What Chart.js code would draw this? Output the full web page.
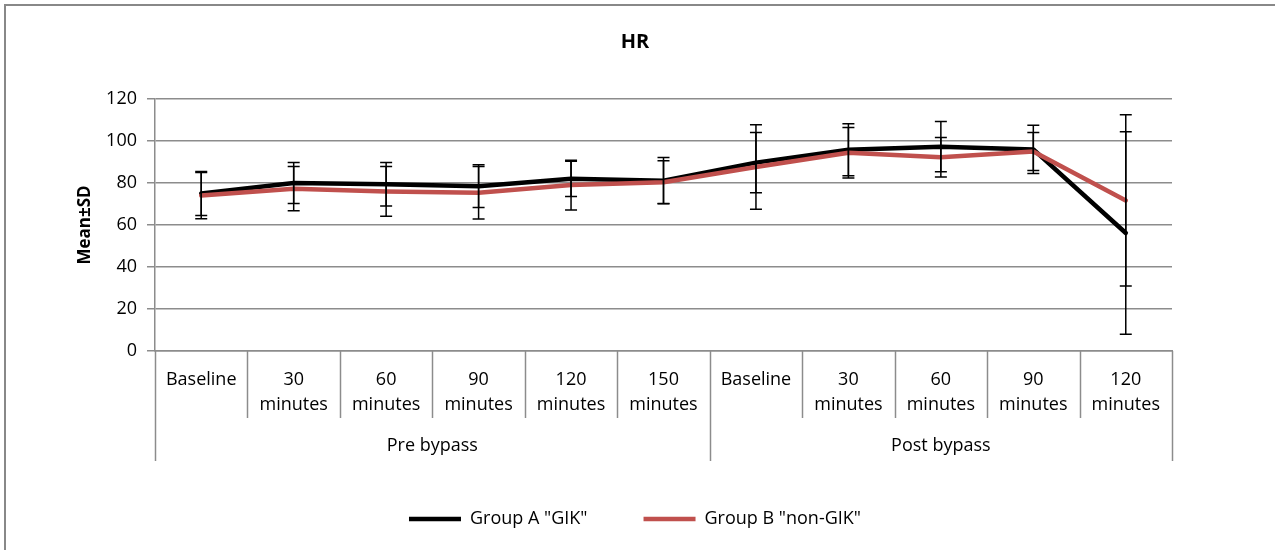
<!DOCTYPE html>
<html>
<head>
<meta charset="utf-8">
<script src="https://cdn.jsdelivr.net/npm/chart.js@4"></script>
<style>
  html, body { margin: 0; padding: 0; background: #fff; }
  #wrap { position: relative; width: 1275px; height: 550px; overflow: hidden; }
  #frame { position: absolute; left: 4px; top: 4px; width: 1400px; height: 700px;
           border-left: 2px solid #888; border-top: 2px solid #888; pointer-events: none; }
  canvas { position: absolute; left: 0; top: 0; }
</style>
</head>
<body>
<div id="wrap">
  <canvas id="hr" width="1275" height="550"></canvas>
  <div id="frame"></div>
</div>
<script>
// ── Data ────────────────────────────────────────────────────
const categories = [
    ['Baseline'], ['30', 'minutes'], ['60', 'minutes'], ['90', 'minutes'],
    ['120', 'minutes'], ['150', 'minutes'],
    ['Baseline'], ['30', 'minutes'], ['60', 'minutes'], ['90', 'minutes'], ['120', 'minutes']
];
const groupNames = ['Pre bypass', 'Post bypass'];
const groupSizes = [6, 5];

const meanA = [75, 80, 79.4, 78.5, 82, 81.1, 89.7, 95.8, 97.3, 96, 56.2];
const sdA   = [10.5, 9.8, 10.4, 10.2, 8.4, 11, 14.4, 12.4, 12, 11.5, 48.2];
const meanB = [74, 77.3, 76, 75.4, 79, 80.4, 87.6, 94.4, 92.3, 95, 71.7];
const sdB   = [11, 10.5, 11.8, 12.5, 11.8, 10.2, 20.1, 12, 9.4, 9, 40.8];

const yTicks = [0, 20, 40, 60, 80, 100, 120];

const FONT = "'Open Sans', 'Liberation Sans', sans-serif";
const GRID = '#8c8c8c';

// ── Error bars (both groups, black) ─────────────────────────
const errorBars = {
    id: 'errorBars',
    afterDatasetsDraw(chart) {
        const { ctx, scales: { x, y } } = chart;
        ctx.save();
        ctx.strokeStyle = '#000';
        ctx.lineWidth = 1.5;
        [[meanA, sdA], [meanB, sdB]].forEach(([m, s]) => {
            m.forEach((v, i) => {
                const px = x.getPixelForValue(i);
                const top = y.getPixelForValue(v + s[i]);
                const bot = y.getPixelForValue(v - s[i]);
                ctx.beginPath();
                ctx.moveTo(px, top); ctx.lineTo(px, bot);
                ctx.moveTo(px - 6, top); ctx.lineTo(px + 6, top);
                ctx.moveTo(px - 6, bot); ctx.lineTo(px + 6, bot);
                ctx.stroke();
            });
        });
        ctx.restore();
    }
};

// ── Category / group separators + group labels ──────────────
const groupAxis = {
    id: 'groupAxis',
    afterDraw(chart) {
        const { ctx, scales: { x, y } } = chart;
        const step = x.getPixelForValue(1) - x.getPixelForValue(0);
        const left = x.getPixelForValue(0) - step / 2;
        const base = y.getPixelForValue(0);
        const catBottom = base + 67;
        const grpBottom = base + 110;
        const groupEdges = [0];
        groupSizes.forEach(n => groupEdges.push(groupEdges[groupEdges.length - 1] + n));

        ctx.save();
        ctx.strokeStyle = GRID;
        ctx.lineWidth = 1.5;
        for (let i = 0; i <= categories.length; i++) {
            const px = Math.round(left + i * step) + 0.5;
            ctx.beginPath();
            ctx.moveTo(px, base);
            ctx.lineTo(px, groupEdges.includes(i) ? grpBottom : catBottom);
            ctx.stroke();
        }
        ctx.fillStyle = '#000';
        ctx.font = '18px ' + FONT;
        ctx.textAlign = 'center';
        ctx.textBaseline = 'middle';
        groupNames.forEach((g, k) => {
            const cx = left + (groupEdges[k] + groupEdges[k + 1]) / 2 * step;
            ctx.fillText(g, cx, base + 95);
        });
        ctx.restore();
    }
};

new Chart(document.getElementById('hr'), {
    type: 'line',
    data: {
        labels: categories,
        datasets: [
            {
                label: 'Group A "GIK"',
                data: meanA,
                borderColor: '#000000',
                backgroundColor: '#000000',
                borderWidth: 4.5,
                borderCapStyle: 'round',
                borderJoinStyle: 'round',
                pointRadius: 0,
                tension: 0,
                order: 1
            },
            {
                label: 'Group B "non-GIK"',
                data: meanB,
                borderColor: '#C0504D',
                backgroundColor: '#C0504D',
                borderWidth: 4.5,
                borderCapStyle: 'round',
                borderJoinStyle: 'round',
                pointRadius: 0,
                tension: 0,
                order: 0
            }
        ]
    },
    options: {
        responsive: false,
        animation: false,
        layout: { padding: { left: 98, right: 103, top: 30, bottom: 12 } },
        plugins: {
            title: {
                display: true,
                text: 'HR',
                color: '#000',
                font: { family: FONT, size: 20, weight: 'bold' },
                padding: { top: 0, bottom: 45 }
            },
            legend: {
                position: 'bottom',
                labels: {
                    color: '#000',
                    font: { family: FONT, size: 18 },
                    usePointStyle: true,
                    pointStyle: 'line',
                    pointStyleWidth: 52,
                    padding: 56,
                    sort: (a, b) => a.datasetIndex - b.datasetIndex
                }
            },
            tooltip: { enabled: false }
        },
        scales: {
            x: {
                offset: true,
                grid: { display: false, offset: true },
                border: { display: true, color: GRID, width: 1.5 },
                ticks: {
                    color: '#000',
                    font: { family: FONT, size: 18, lineHeight: 1.4 },
                    padding: 8,
                    maxRotation: 0,
                    autoSkip: false
                },
                afterFit: s => { s.height = 103; }
            },
            y: {
                min: 0,
                max: 120,
                afterBuildTicks: s => { s.ticks = yTicks.map(v => ({ value: v })); },
                grid: { color: GRID, lineWidth: 1.5, tickLength: 8 },
                border: { display: true, color: GRID, width: 1.5 },
                ticks: {
                    color: '#000',
                    font: { family: FONT, size: 18 },
                    padding: 10
                },
                title: {
                    display: true,
                    text: 'Mean±SD',
                    color: '#000',
                    font: { family: FONT, size: 17, weight: 'bold' },
                    padding: { top: -23, bottom: 0 }
                },
                afterFit: s => { s.width = 57; }
            }
        }
    },
    plugins: [errorBars, groupAxis]
});
</script>
</body>
</html>
